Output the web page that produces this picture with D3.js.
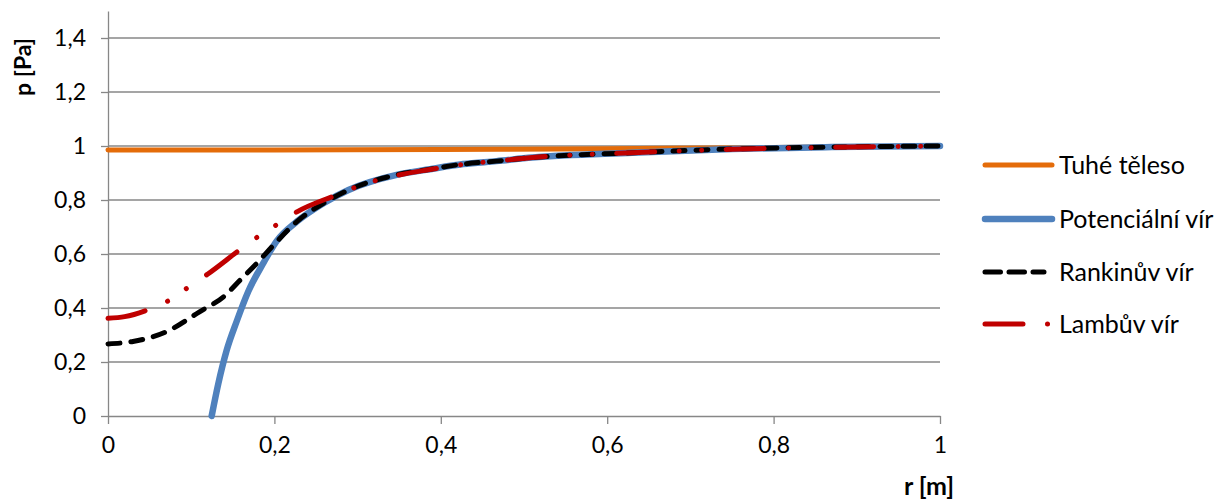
<!DOCTYPE html>
<html><head><meta charset="utf-8">
<script src="https://cdn.jsdelivr.net/npm/d3@7"></script>
<style>
body{margin:0;background:#fff}
text{font-family:Lato, "Open Sans", sans-serif;fill:#000}
</style>
</head><body>
<svg id="c" width="1226" height="499"></svg>
<script>
// ---- data ----
const xTicks = [0, 0.2, 0.4, 0.6, 0.8, 1];
const yTicks = [0, 0.2, 0.4, 0.6, 0.8, 1, 1.2, 1.4];
const seriesNames = ["Tuhé těleso", "Potenciální vír", "Rankinův vír", "Lambův vír"];

const rRigid = [0, 0.2, 0.4, 0.6, 0.8, 1];
const pRigid = [0.985, 0.9855, 0.987, 0.990, 0.994, 1.0];

const rPot = [0.1246, 0.1326, 0.1426, 0.1546, 0.1687, 0.187, 0.2027, 0.227, 0.259, 0.289, 0.347, 0.387, 0.427, 0.467, 0.51, 0.63, 0.75, 0.87, 1];
const pPot = [0, 0.12, 0.243, 0.35, 0.462, 0.568, 0.648, 0.72, 0.788, 0.837, 0.893, 0.914, 0.933, 0.944, 0.957, 0.975, 0.989, 0.996, 1.0];

const rRank = [0, 0.03, 0.07, 0.11, 0.139, 0.159, 0.179, 0.199, 0.227, 0.259, 0.289, 0.347, 0.387, 0.427, 0.467, 0.51, 0.63, 0.75, 0.87, 1];
const pRank = [0.267, 0.276, 0.312, 0.386, 0.442, 0.504, 0.566, 0.633, 0.72, 0.788, 0.837, 0.893, 0.914, 0.933, 0.944, 0.957, 0.975, 0.989, 0.996, 1.0];

const rLamb = [0, 0.02, 0.05, 0.0745, 0.0974, 0.12, 0.159, 0.1815, 0.2047, 0.2276, 0.275, 0.307, 0.347, 0.387, 0.427, 0.467, 0.51, 0.63, 0.75, 0.87, 1];
const pLamb = [0.362, 0.368, 0.396, 0.43, 0.479, 0.526, 0.617, 0.667, 0.712, 0.757, 0.819, 0.858, 0.891, 0.913, 0.932, 0.944, 0.957, 0.975, 0.988, 0.995, 1.0];

// ---- chart ----
const svg = d3.select("#c");
const x = d3.scaleLinear([0, 1], [108, 940]);
const y = d3.scaleLinear([0, 1.5], [416, 11]);
const loc = d3.formatLocale({decimal: ",", thousands: " ", grouping: [3], currency: ["", ""]});
const fmt = v => loc.format("~g")(v);
const gridCol = "#878787";

// gridlines
svg.append("g").selectAll("line").data(yTicks.filter(d => d > 0)).join("line")
  .attr("x1", x(0)).attr("x2", x(1))
  .attr("y1", d => y(d)).attr("y2", d => y(d))
  .attr("stroke", gridCol).attr("stroke-width", 1.3);

// axes
const ax = svg.append("g").attr("transform", `translate(${x(0)},0)`)
  .call(d3.axisLeft(y).tickValues(yTicks).tickSize(7).tickSizeOuter(0).tickPadding(15).tickFormat(fmt));
const bx = svg.append("g").attr("transform", `translate(0,${y(0)})`)
  .call(d3.axisBottom(x).tickValues(xTicks).tickSize(8).tickSizeOuter(0).tickPadding(13).tickFormat(fmt));
[ax, bx].forEach(g => {
  g.select(".domain").attr("stroke", gridCol).attr("stroke-width", 1.3);
  g.selectAll(".tick line").attr("stroke", gridCol).attr("stroke-width", 1.3);
  g.selectAll(".tick text").attr("font-size", 23).attr("fill", "#000").style("font-family", "Lato, sans-serif");
});

// series
const line = d3.line().x(d => x(d[0])).y(d => y(d[1])).curve(d3.curveMonotoneX);
const zip = (a, b) => a.map((v, i) => [v, b[i]]);
const styles = [
  {col: "#E46C0A", w: 5, dash: null},
  {col: "#4F81BD", w: 6.5, dash: null},
  {col: "#000000", w: 5, dash: "12 11"},
  {col: "#C00000", w: 5, dash: "38 24.5 0.01 22.5 0.01 24.5"}
];
const data = [zip(rRigid, pRigid), zip(rPot, pPot), zip(rRank, pRank), zip(rLamb, pLamb)];
data.forEach((d, i) => {
  svg.append("path").datum(d).attr("d", line)
    .attr("fill", "none").attr("stroke", styles[i].col).attr("stroke-width", styles[i].w)
    .attr("stroke-linecap", "round").attr("stroke-linejoin", "round")
    .attr("stroke-dasharray", styles[i].dash);
});

// legend
const legY = [165, 219, 272, 324];
const legDash = [null, null, "15.5 8.5", "38 24.5 0.01 22.5 0.01 24.5"];
const legEnd = [1052, 1052, 1044, 1052];
seriesNames.forEach((n, i) => {
  svg.append("line").attr("x1", 985).attr("x2", legEnd[i]).attr("y1", legY[i]).attr("y2", legY[i])
    .attr("stroke", styles[i].col).attr("stroke-width", styles[i].w)
    .attr("stroke-linecap", "round").attr("stroke-dasharray", legDash[i]);
  svg.append("text").attr("x", 1059).attr("y", legY[i]).attr("dy", "0.36em")
    .attr("font-size", 25).text(n);
});

// axis titles
svg.append("text").attr("transform", "translate(23,67) rotate(-90)").attr("text-anchor", "middle")
  .attr("dy", "0.36em").attr("font-size", 23).attr("font-weight", "bold").text("p  [Pa]");
svg.append("text").attr("x", 929).attr("y", 486).attr("text-anchor", "middle")
  .attr("dy", "0.36em").attr("font-size", 25).attr("font-weight", "bold").text("r [m]");
</script>
</body></html>
